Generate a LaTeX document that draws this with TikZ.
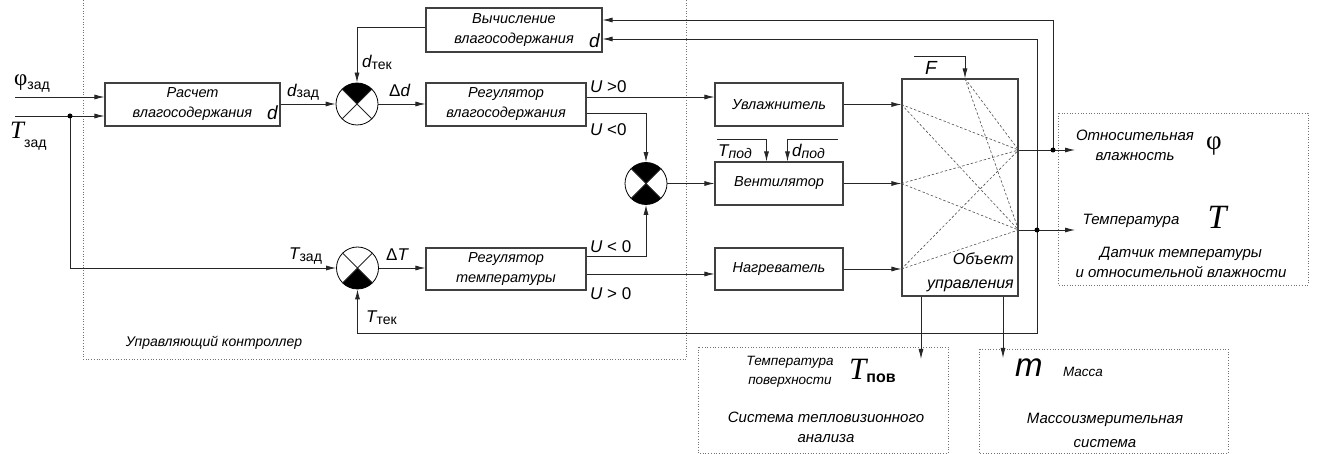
\documentclass[tikz,border=0pt]{standalone}
\usepackage{fontspec}
\setmainfont{Liberation Sans}
\newfontfamily\serifnt{Liberation Serif}
\usepackage{tikz}
\usetikzlibrary{arrows.meta, calc}
\newcommand{\lowsub}[2][2pt]{\raisebox{-#1}{\fontsize{14}{14}\selectfont\upshape #2}}
\tikzstyle{wire} = [draw=black!85, line width=0.8pt]
\tikzstyle{arrow} = [draw=black!85, line width=0.8pt, -{Latex[length=10pt,width=5pt]}]
\tikzstyle{block} = [rectangle, draw=black!75, line width=1.1pt, inner sep=0pt, align=center, font=\fontsize{14.5}{20}\selectfont\itshape]
\tikzstyle{summer} = [circle, draw=black, line width=0.8pt, minimum size=42pt, inner sep=0pt]
\tikzstyle{frame} = [draw=black!55, line width=0.7pt, dash pattern=on 0.7pt off 2pt]
\tikzstyle{link} = [draw=black!70, line width=0.6pt, dash pattern=on 2.5pt off 2pt]
\tikzstyle{caption} = [inner sep=0pt, align=center, font=\fontsize{15}{20}\selectfont\itshape]
\tikzstyle{signal} = [inner sep=0pt, font=\fontsize{17}{17}\selectfont]

\begin{document}
\begin{tikzpicture}[x=1pt, y=-1pt]
        \useasboundingbox (0,0) rectangle (1318,454);

        \draw [frame] (83,0) -- (83,359) -- (686,359) -- (686,0);
        \draw [frame] (1058,113) rectangle (1308,285);
        \draw [frame] (698,347) rectangle (948,453);
        \draw [frame] (979,349) rectangle (1228,453);

        \node (raschet) [block, minimum width=175pt, minimum height=43pt] at (192.5,104.5) {Расчет\\влагосодержания};
        \node (vychislenie) [block, minimum width=176pt, minimum height=44pt] at (514,30) {Вычисление\\влагосодержания};
        \node (reg_vlag) [block, minimum width=160pt, minimum height=43pt] at (506,104.5) {Регулятор\\влагосодержания};
        \node (uvlazh) [block, minimum width=128pt, minimum height=43pt] at (779,104.5) {Увлажнитель};
        \node (ventil) [block, minimum width=128pt, minimum height=43pt] at (779,183.5) {Вентилятор};
        \node (nagrev) [block, minimum width=128pt, minimum height=42pt] at (779,269) {Нагреватель};
        \node (reg_temp) [block, minimum width=160pt, minimum height=42pt] at (506,269) {Регулятор\\температуры};
        \node (object) [block, minimum width=116pt, minimum height=217pt] at (960,187.5) {};

        \node (raschet_d) [signal, anchor=base east, font=\fontsize{19}{19}\selectfont\itshape] at (278,120) {d};
        \node (vychislenie_d) [signal, anchor=base east, font=\fontsize{19}{19}\selectfont\itshape] at (600,48) {d};
        \node (object_lbl) [caption, anchor=south east, align=right, font=\fontsize{16}{24}\selectfont\itshape] at (1014,292) {Объект\\управления};

        \node (cmp_d) [summer] at (357,104) {};
        \node (cmp_fan) [summer] at (646,183.5) {};
        \node (cmp_t) [summer] at (357.5,268) {};
        \fill ($(cmp_d)+(45:21pt)$) arc [start angle=45, end angle=135, radius=21pt] -- (cmp_d.center) -- cycle;
        \fill ($(cmp_fan)+(45:21pt)$) arc [start angle=45, end angle=135, radius=21pt] -- (cmp_fan.center) -- cycle;
        \fill ($(cmp_fan)+(225:21pt)$) arc [start angle=225, end angle=315, radius=21pt] -- (cmp_fan.center) -- cycle;
        \fill ($(cmp_t)+(225:21pt)$) arc [start angle=225, end angle=315, radius=21pt] -- (cmp_t.center) -- cycle;
        \foreach \c in {cmp_d, cmp_fan, cmp_t} {
            \draw [wire] (\c.north east) -- (\c.south west) (\c.north west) -- (\c.south east);
        }

        \coordinate (phi_in) at (15,97);
        \coordinate (t_in) at (15,116);
        \coordinate (t_split) at (70,116);
        \coordinate (phi_node) at (1053,150);
        \coordinate (t_node) at (1037,230);
        \coordinate (t_fb) at (1037,333);
        \coordinate (phi_end) at (1075,150);
        \coordinate (t_end) at (1075,230);
        \coordinate (out_phi) at (object.east |- phi_node);
        \coordinate (out_t) at (object.east |- t_node);
        \coordinate (in_hum) at (uvlazh.east -| object.west);
        \coordinate (in_fan) at (ventil.east -| object.west);
        \coordinate (in_heat) at (nagrev.east -| object.west);
        \coordinate (f_start) at (914,56);
        \coordinate (f_pt) at ([xshift=5pt]object.north);
        \coordinate (tpod_start) at (717,139);
        \coordinate (dpod_start) at (838,139);
        \coordinate (tpov_end) at (921,359);
        \coordinate (mass_end) at (1003,358);
        \coordinate (u_pos_d) at ([yshift=7.5pt]reg_vlag.east);
        \coordinate (u_pos_t) at ([yshift=-5pt]reg_temp.east);

        \foreach \src in {f_pt, in_hum, in_fan, in_heat} {
            \foreach \dst in {out_phi, out_t} {
                \draw [link] (\src) -- (\dst);
            }
        }

        \draw [arrow] (phi_in) -- (phi_in -| raschet.west);
        \draw [arrow] (t_in) -- (t_in -| raschet.west);
        \draw [arrow] (t_split) |- (cmp_t.west);
        \draw [arrow] (raschet.east |- cmp_d) -- (cmp_d.west);
        \draw [arrow] (cmp_d.east) -- (cmp_d.east -| reg_vlag.west);
        \draw [arrow] ([yshift=3pt]vychislenie.west) -| (cmp_d.north);
        \draw [arrow] (u_pos_d) -- (u_pos_d -| uvlazh.west);
        \draw [arrow] ([yshift=-8.5pt]reg_vlag.east) -| (cmp_fan.north);
        \draw [arrow] ([yshift=13pt]reg_temp.east) -| (cmp_fan.south);
        \draw [arrow] (u_pos_t) -- (u_pos_t -| nagrev.west);
        \draw [arrow] (cmp_t.east) -- (cmp_t.east -| reg_temp.west);
        \draw [arrow] (cmp_fan.east) -- (cmp_fan.east -| ventil.west);
        \draw [arrow] (uvlazh.east) -- (in_hum);
        \draw [arrow] (ventil.east) -- (in_fan);
        \draw [arrow] (nagrev.east) -- (in_heat);
        \draw [arrow] (tpod_start) -| ([xshift=-12.5pt]ventil.north);
        \draw [arrow] (dpod_start) -| ([xshift=8.5pt]ventil.north);
        \draw [arrow] (f_start) -| (f_pt);
        \draw [arrow] (out_phi) -- (phi_end);
        \draw [arrow] (out_t) -- (t_end);
        \draw [arrow] (phi_node) |- ([yshift=10pt]vychislenie.east);
        \draw [arrow] (t_node) |- ([yshift=-9pt]vychislenie.east);
        \draw [arrow] (t_node) -- (t_fb) -| (cmp_t.south);
        \draw [arrow] (object.south -| tpov_end) -- (tpov_end);
        \draw [arrow] (object.south -| mass_end) -- (mass_end);
        \fill (t_split) circle (2.5pt);
        \fill (phi_node) circle (2.5pt);
        \fill (t_node) circle (2.5pt);

        \node (phi_zad) [signal, anchor=base west] at (14,86) {{\serifnt\fontsize{23}{23}\selectfont φ}\lowsub[4pt]{зад}};
        \node (t_zad) [signal, anchor=base west] at (10,139) {{\serifnt\itshape\fontsize{25}{25}\selectfont T}\lowsub[9pt]{зад}};
        \node (d_zad) [signal, anchor=base west] at (287,97) {\itshape d\lowsub[1pt]{зад}};
        \node (d_tek) [signal, anchor=base west] at (362,68) {\itshape d\lowsub[2pt]{тек}};
        \node (delta_d) [signal, anchor=base west] at (389,97) {Δ\itshape d};
        \node (t_zad_cmp) [signal, anchor=base west] at (289,260) {\itshape T\lowsub[2pt]{зад}};
        \node (delta_t) [signal, anchor=base west] at (386,261) {Δ\itshape T};
        \node (t_tek) [signal, anchor=base west] at (366,323) {\itshape T\lowsub[2pt]{тек}};
        \node (u_hum_pos) [signal, anchor=base west] at (590,93) {{\itshape U} >0};
        \node (u_hum_neg) [signal, anchor=base west] at (590,136) {{\itshape U} <0};
        \node (u_heat_neg) [signal, anchor=base west] at (590,253) {{\itshape U} < 0};
        \node (u_heat_pos) [signal, anchor=base west] at (590,300) {{\itshape U} > 0};
        \node (t_pod) [signal, anchor=base west] at (718,157) {\itshape T\lowsub[2pt]{\itshape под}};
        \node (d_pod) [signal, anchor=base west] at (792,157) {\itshape d\lowsub[2pt]{\itshape под}};
        \node (f_lbl) [signal, anchor=base west, font=\fontsize{19}{19}\selectfont\itshape] at (925,75) {F};

        \node (ctrl_lbl) [caption, font=\fontsize{14}{20}\selectfont\itshape] at (214,343) {Управляющий контроллер};
        \node (hum_lbl) [caption] at (1135,145) {Относительная\\влажность};
        \node (hum_sym) [signal, font=\serifnt\fontsize{27}{27}\selectfont] at (1214,146) {φ};
        \node (temp_lbl) [caption] at (1131,221) {Температура};
        \node (temp_sym) [signal, font=\serifnt\itshape\fontsize{34}{34}\selectfont] at (1217,217) {T};
        \node (sensor_lbl) [caption] at (1181,262) {Датчик температуры\\и относительной влажности};
        \node (tpov_lbl) [caption, font=\fontsize{13.5}{19}\selectfont\itshape] at (790,372) {Температура\\поверхности};
        \node (tpov_sym) [signal, anchor=base west] at (849,380) {{\serifnt\itshape\fontsize{31}{31}\selectfont T}\raisebox{-3pt}{\fontsize{16}{16}\selectfont\bfseries пов}};
        \node (thermo_lbl) [caption] at (826,427) {Система тепловизионного\\анализа};
        \node (m_sym) [signal, anchor=base west, font=\fontsize{33}{33}\selectfont\itshape] at (1015,377) {m};
        \node (mass_lbl) [caption, font=\fontsize{13.5}{19}\selectfont\itshape] at (1083,372) {Масса};
        \node (massys_lbl) [caption, font=\fontsize{15}{24}\selectfont\itshape] at (1105,430) {Массоизмерительная\\система};

        \end{tikzpicture}
\end{document}
